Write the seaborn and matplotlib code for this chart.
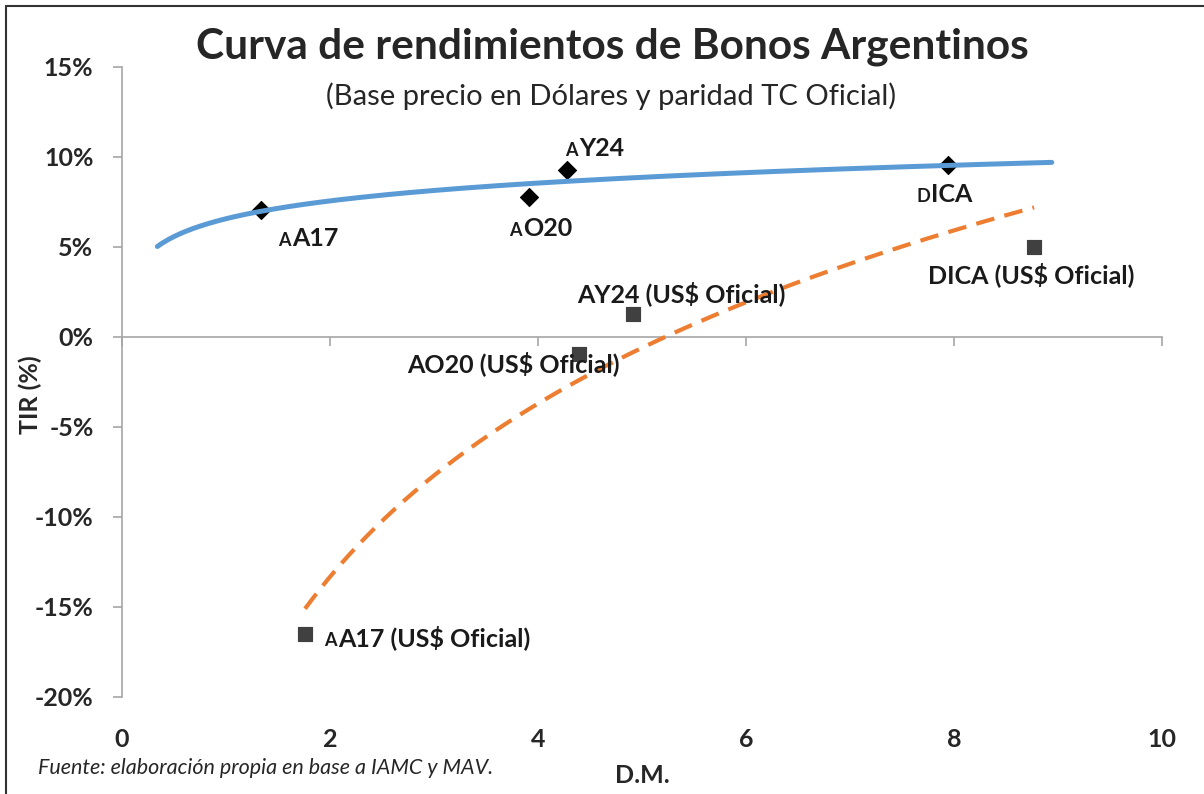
import numpy as np
import matplotlib
matplotlib.use("Agg")
import matplotlib.pyplot as plt
from matplotlib.lines import Line2D
import seaborn as sns

# Bonos argentinos: duracion modificada (D.M.) y TIR en %
BONDS = ["AA17", "AO20", "AY24", "DICA"]

# precio en dolares
DM_USD = [1.34, 3.91, 4.28, 7.94]
TIR_USD = [7.06, 7.79, 9.28, 9.56]

# paridad TC oficial
DM_OFICIAL = [1.76, 4.39, 4.91, 8.77]
TIR_OFICIAL = [-16.5, -0.94, 1.28, 5.0]
OFICIAL_SUFFIX = " (US$ Oficial)"

X_TICKS = [0, 2, 4, 6, 8, 10]
Y_TICKS = [-20, -15, -10, -5, 0, 5, 10, 15]

TITLE = "Curva de rendimientos de Bonos Argentinos"
SUBTITLE = "(Base precio en Dólares y paridad TC Oficial)"
SOURCE = "Fuente: elaboración propia en base a IAMC y MAV."

BLUE = "#5B9BD5"
ORANGE = "#ED7D31"
AXIS_GREY = "#A6A6A6"
FONT = "Lato"
LABEL_SIZE = 18


def log_trend(x, y, back=0.0, fwd=0.0, n=300):
    # tendencia logaritmica tipo Excel: y = a + b*ln(x)
    b, a = np.polyfit(np.log(x), y, 1)
    xs = np.linspace(min(x) - back, max(x) + fwd, n)
    return xs, a + b * np.log(xs)


def label(ax, x, y, text, dx, dy, small_first, size=LABEL_SIZE):
    # el primer caracter va en tamanio chico, como en el grafico original
    if small_first:
        ax.annotate(text[0], (x, y), xytext=(dx, dy), textcoords="offset pixels",
                    fontsize=size * 0.72, fontweight="bold", ha="left", va="baseline",
                    color="#1a1a1a", zorder=6)
        dx += 14
        text = text[1:]
    ax.annotate(text, (x, y), xytext=(dx, dy), textcoords="offset pixels",
                fontsize=size, fontweight="bold", ha="left", va="baseline",
                color="#1a1a1a", zorder=6)


def main():
    sns.set_theme(style="white")
    plt.rcParams["font.family"] = [FONT, "DejaVu Sans"]

    fig = plt.figure(figsize=(12.04, 7.94), dpi=100)
    ax = fig.add_axes([122 / 1204, 1 - 697 / 794, 1040 / 1204, 630 / 794])

    # tendencias
    xs, ys = log_trend(DM_USD, TIR_USD, back=1.0, fwd=1.0)
    sns.lineplot(x=xs, y=ys, ax=ax, color=BLUE, lw=3.6, solid_capstyle="round",
                 zorder=5, sort=False)
    xs, ys = log_trend(DM_OFICIAL, TIR_OFICIAL)
    sns.lineplot(x=xs, y=ys, ax=ax, color=ORANGE, lw=3.0, linestyle=(0, (4.5, 2.5)),
                 zorder=5, sort=False)

    sns.scatterplot(x=DM_USD, y=TIR_USD, ax=ax, marker="D", s=85, color="black",
                    edgecolor="black", zorder=4)
    sns.scatterplot(x=DM_OFICIAL, y=TIR_OFICIAL, ax=ax, marker="s", s=110,
                    color="#404040", edgecolor="#404040", zorder=4)

    # etiquetas (offsets en pixeles)
    usd_offsets = [(17, -36), (-20, -39), (-2, 14), (-31, -37)]
    for i, name in enumerate(BONDS):
        label(ax, DM_USD[i], TIR_USD[i], name, *usd_offsets[i], small_first=True)

    ofi_offsets = [(19, -12), (-171, -18), (-55, 12), (-106, -36)]
    ofi_small = [True, False, False, False]
    for i, name in enumerate(BONDS):
        label(ax, DM_OFICIAL[i], TIR_OFICIAL[i], name + OFICIAL_SUFFIX,
              *ofi_offsets[i], small_first=ofi_small[i])

    ax.set_xlim(X_TICKS[0], X_TICKS[-1])
    ax.set_ylim(Y_TICKS[0], Y_TICKS[-1])
    ax.set_xticks(X_TICKS)
    ax.set_yticks(Y_TICKS)
    ax.set_yticklabels([f"{v}%" for v in Y_TICKS], fontweight="bold", fontsize=18)

    for side in ["top", "right"]:
        ax.spines[side].set_visible(False)
    ax.spines["bottom"].set_position(("data", 0))
    for side in ["left", "bottom"]:
        ax.spines[side].set_color(AXIS_GREY)
        ax.spines[side].set_linewidth(1.2)

    ax.tick_params(axis="y", direction="out", length=6.5, width=1.2, color=AXIS_GREY,
                   pad=14, left=True)
    ax.tick_params(axis="x", direction="out", length=6.5, width=1.2, color=AXIS_GREY,
                   labelbottom=False, bottom=True)

    # etiquetas del eje x abajo del area de grafico
    sec = ax.secondary_xaxis("bottom")
    sec.set_xticks(X_TICKS)
    sec.set_xticklabels([str(v) for v in X_TICKS], fontweight="bold", fontsize=18)
    sec.tick_params(length=0, pad=22)
    sec.spines["bottom"].set_visible(False)
    sec.set_xlabel("D.M.", fontsize=18, fontweight="bold", labelpad=10)

    ax.set_ylabel("TIR (%)", fontsize=18, fontweight="bold")
    ax.yaxis.set_label_coords(-80 / 1040, 0.48)

    fig.text(612 / 1204, 1 - 47 / 794, TITLE, ha="center", va="center",
             fontsize=30.5, fontweight="bold")
    fig.text(611 / 1204, 1 - 96 / 794, SUBTITLE, ha="center", va="center",
             fontsize=21)
    fig.text(38 / 1204, 1 - 768 / 794, SOURCE, ha="left", va="center",
             fontsize=15.5, style="italic")

    # marco de la captura (arriba e izquierda)
    fig.add_artist(Line2D([6 / 1204, 1], [1 - 6 / 794] * 2, color="#333333", lw=1.5))
    fig.add_artist(Line2D([6 / 1204] * 2, [0, 1 - 6 / 794], color="#333333", lw=1.5))

    fig.savefig("out.png", dpi=100, facecolor="white")


if __name__ == "__main__":
    main()
